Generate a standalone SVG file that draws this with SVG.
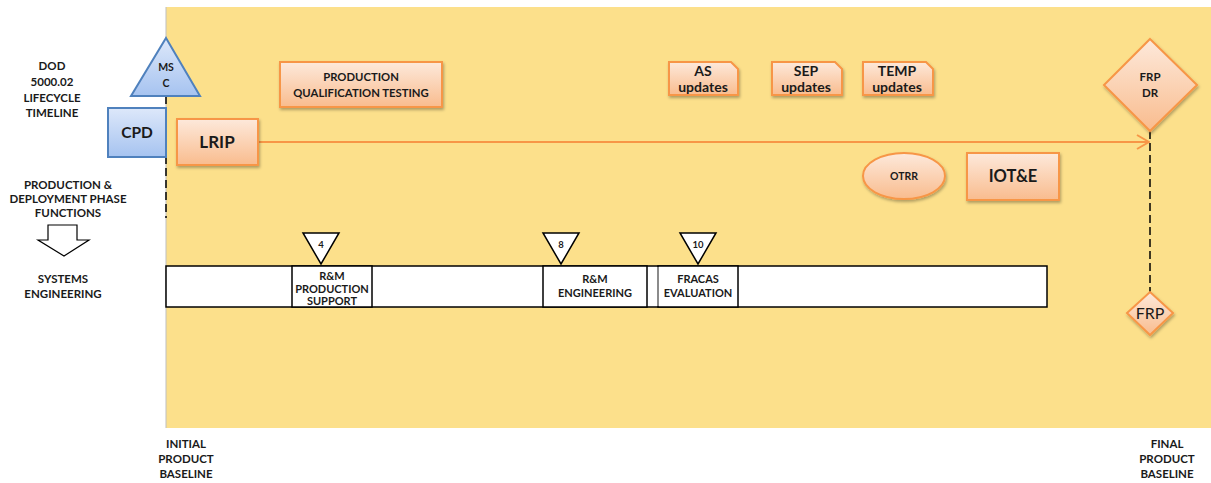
<svg xmlns="http://www.w3.org/2000/svg" width="1211" height="483" viewBox="0 0 1211 483">
  <defs>
    <linearGradient id="orangeFill" x1="0" y1="0" x2="0" y2="1">
      <stop offset="0" stop-color="#FDE9DB"/>
      <stop offset="1" stop-color="#F9BC8E"/>
    </linearGradient>
    <linearGradient id="blueFill" x1="0" y1="0" x2="0" y2="1">
      <stop offset="0" stop-color="#DDE8FA"/>
      <stop offset="1" stop-color="#A6C3F0"/>
    </linearGradient>
    <filter id="shadow" x="-10%" y="-10%" width="130%" height="140%">
      <feDropShadow dx="1" dy="2" stdDeviation="1.5" flood-color="#000" flood-opacity="0.3"/>
    </filter>
    <marker id="openArrow" viewBox="0 0 14 16" refX="13" refY="8" markerWidth="14" markerHeight="16" markerUnits="userSpaceOnUse" orient="auto">
      <path d="M1,1 L13,8 L1,15" fill="none" stroke="#F79646" stroke-width="2"/>
    </marker>
    <style>
      .lbl { font-family: Lato, "Liberation Sans", sans-serif; font-weight: bold; fill: #1a1a1a; text-anchor: middle; }
      .side { font-size: 11.5px; }
      .cellt { font-size: 11px; }
      .upd { font-size: 14px; }
      .orange { fill: url(#orangeFill); stroke: #F79646; stroke-width: 2; filter: url(#shadow); }
      .blue { fill: url(#blueFill); stroke: #4F81BD; stroke-width: 2; }
      .cell { fill: #ffffff; stroke: #000000; stroke-width: 1.5; }
      .tri { fill: #ffffff; stroke: #000000; stroke-width: 1.5; }
      .dash { stroke: #000000; stroke-width: 1.5; stroke-dasharray: 8 4; fill: none; }
    </style>
  </defs>

  <!-- background -->
  <rect x="0" y="0" width="1211" height="483" fill="#ffffff"/>
  <rect x="166" y="7" width="1045" height="421" fill="#FCE08B"/>
  <line x1="166" y1="7" x2="166" y2="428" stroke="#BFBFBF" stroke-width="1"/>

  <!-- side labels -->
  <g id="side-labels">
    <text class="lbl side" x="52" y="70">DOD</text>
    <text class="lbl side" x="52" y="86">5000.02</text>
    <text class="lbl side" x="52" y="102">LIFECYCLE</text>
    <text class="lbl side" x="52" y="117">TIMELINE</text>
    <text class="lbl side" x="68" y="189">PRODUCTION &amp;</text>
    <text class="lbl side" x="68" y="203">DEPLOYMENT PHASE</text>
    <text class="lbl side" x="68" y="217">FUNCTIONS</text>
    <path d="M48,225 H77 V240 H89 L64,256 L38,240 H48 Z" fill="#ffffff" stroke="#000000" stroke-width="1.2"/>
    <text class="lbl side" x="63" y="283">SYSTEMS</text>
    <text class="lbl side" x="63" y="298">ENGINEERING</text>
    <text class="lbl side" x="186" y="448">INITIAL</text>
    <text class="lbl side" x="186" y="463">PRODUCT</text>
    <text class="lbl side" x="186" y="478">BASELINE</text>
    <text class="lbl side" x="1167" y="448">FINAL</text>
    <text class="lbl side" x="1167" y="463">PRODUCT</text>
    <text class="lbl side" x="1167" y="478">BASELINE</text>
  </g>

  <!-- connectors -->
  <g id="connectors">
    <line class="dash" x1="166" y1="96" x2="166" y2="218"/>
    <line x1="258" y1="142" x2="1149" y2="142" stroke="#F79646" stroke-width="2" marker-end="url(#openArrow)"/>
    <line class="dash" x1="1150" y1="131" x2="1150" y2="292"/>
  </g>

  <!-- milestone C -->
  <g id="msc">
    <path class="blue" d="M166,38 L200,96 L131,96 Z"/>
    <text class="lbl" font-size="10.5" x="166" y="71">MS</text>
    <text class="lbl" font-size="10.5" x="166" y="87">C</text>
  </g>

  <g id="cpd">
    <rect class="blue" x="108" y="108" width="58" height="49"/>
    <text class="lbl" font-size="15.5" x="137" y="138">CPD</text>
  </g>

  <g id="lrip">
    <rect class="orange" x="177" y="119" width="81" height="46"/>
    <text class="lbl" font-size="17" x="217" y="148">LRIP</text>
  </g>

  <g id="pqt">
    <rect class="orange" x="280" y="62" width="162" height="45"/>
    <text class="lbl" font-size="11.3" x="361" y="81">PRODUCTION</text>
    <text class="lbl" font-size="11.3" x="361" y="97">QUALIFICATION TESTING</text>
  </g>

  <g id="as-updates">
    <path class="orange" d="M669,62 H731 L738,69 V95 H669 Z"/>
    <text class="lbl upd" x="703" y="76">AS</text>
    <text class="lbl upd" x="703" y="91.5">updates</text>
  </g>

  <g id="sep-updates">
    <path class="orange" d="M772,62 H835 L842,69 V95 H772 Z"/>
    <text class="lbl upd" x="806" y="76">SEP</text>
    <text class="lbl upd" x="806" y="91.5">updates</text>
  </g>

  <g id="temp-updates">
    <path class="orange" d="M863,62 H926 L933,69 V95 H863 Z"/>
    <text class="lbl upd" x="897" y="76">TEMP</text>
    <text class="lbl upd" x="897" y="91.5">updates</text>
  </g>

  <g id="frp-dr">
    <path class="orange" d="M1150,39 L1197,85 L1150,131 L1104,85 Z"/>
    <text class="lbl" font-size="11.5" x="1150" y="81">FRP</text>
    <text class="lbl" font-size="11.5" x="1150" y="97">DR</text>
  </g>

  <g id="otrr">
    <ellipse class="orange" cx="904" cy="176" rx="41" ry="23"/>
    <text class="lbl" font-size="10.5" x="904" y="180">OTRR</text>
  </g>

  <g id="iote">
    <rect class="orange" x="967" y="153" width="92" height="47"/>
    <text class="lbl" font-size="16.5" x="1013" y="182">IOT&amp;E</text>
  </g>

  <g id="frp">
    <path class="orange" d="M1150,292 L1173,313 L1150,335 L1127,313 Z"/>
    <text class="lbl" style="font-weight:normal" font-size="16" x="1150" y="319">FRP</text>
  </g>

  <!-- systems engineering bar -->
  <g id="se-bar">
    <rect class="cell" x="166" y="266" width="881" height="41"/>
    <rect class="cell" x="292" y="266" width="80" height="41"/>
    <rect class="cell" x="543" y="266" width="104" height="41"/>
    <rect x="658" y="266" width="80" height="41" fill="#ffffff" stroke="#000000" stroke-width="1.5"/>
    <line x1="658" y1="267" x2="658" y2="306" stroke="#A6A6A6" stroke-width="1.5"/>
    <text class="lbl cellt" x="332" y="280">R&amp;M</text>
    <text class="lbl cellt" x="332" y="292.5">PRODUCTION</text>
    <text class="lbl cellt" x="332" y="305">SUPPORT</text>
    <text class="lbl cellt" x="595" y="283">R&amp;M</text>
    <text class="lbl cellt" x="595" y="297">ENGINEERING</text>
    <text class="lbl cellt" x="698" y="283">FRACAS</text>
    <text class="lbl cellt" x="698" y="297">EVALUATION</text>
  </g>

  <g id="review-4">
    <path class="tri" d="M303,233 H339 L321,264 Z"/>
    <text class="lbl" font-size="9.5" x="321" y="248">4</text>
  </g>
  <g id="review-8">
    <path class="tri" d="M543,233 H579 L561,264 Z"/>
    <text class="lbl" font-size="9.5" x="561" y="248">8</text>
  </g>
  <g id="review-10">
    <path class="tri" d="M680,233 H716 L698,264 Z"/>
    <text class="lbl" font-size="9.5" x="698" y="248">10</text>
  </g>
</svg>
